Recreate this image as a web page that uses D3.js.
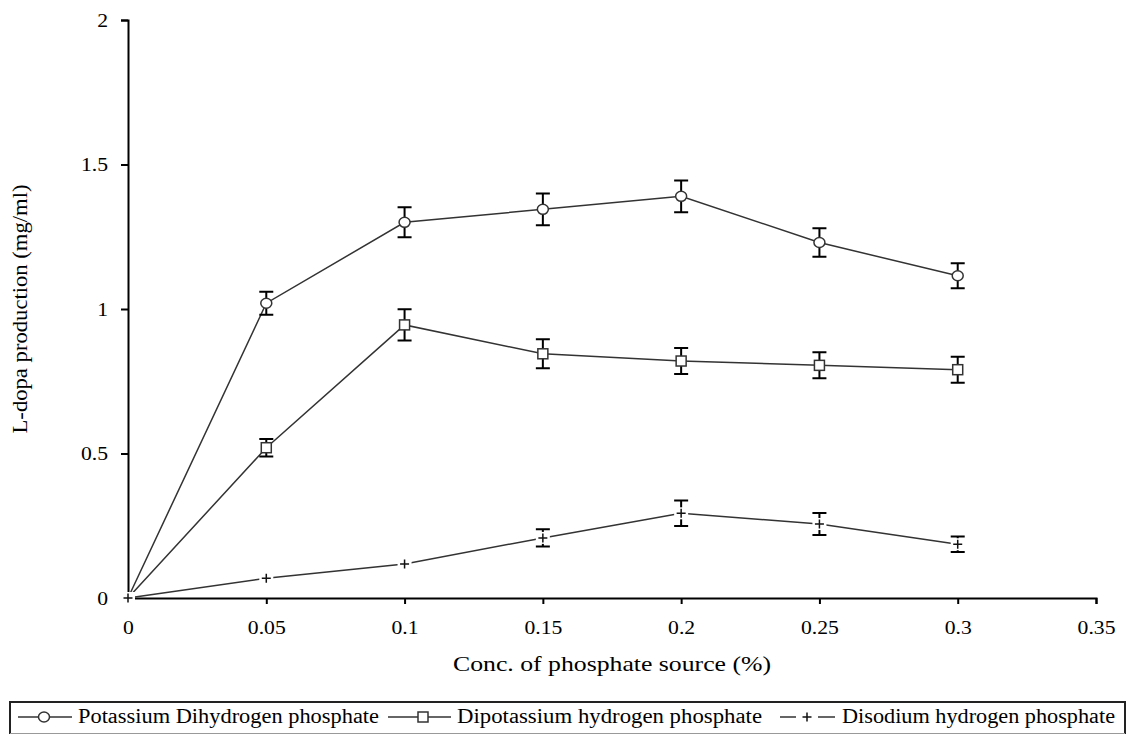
<!DOCTYPE html>
<html><head><meta charset="utf-8">
<script src="https://cdn.jsdelivr.net/npm/d3@7"></script>
<style>body{margin:0;background:#fff}svg{display:block}svg text{font-family:"Liberation Serif","Times New Roman",serif;fill:#000}</style>
</head><body><svg id="c" width="1128" height="735"></svg>
<script>
const xValues = [0, 0.05, 0.1, 0.15, 0.2, 0.25, 0.3];
const seriesNames = ["Potassium Dihydrogen phosphate", "Dipotassium hydrogen phosphate", "Disodium hydrogen phosphate"];
const kh2po4 = [0, 1.02, 1.30, 1.345, 1.39, 1.23, 1.115];
const kh2po4Err = [0, 0.04, 0.052, 0.055, 0.055, 0.049, 0.043];
const k2hpo4 = [0, 0.52, 0.945, 0.845, 0.82, 0.805, 0.79];
const k2hpo4Err = [0, 0.03, 0.054, 0.05, 0.045, 0.045, 0.045];
const na2hpo4 = [0, 0.068, 0.118, 0.208, 0.293, 0.256, 0.186];
const na2hpo4Err = [0, 0, 0, 0.03, 0.044, 0.038, 0.027];
const xTicks = [0, 0.05, 0.1, 0.15, 0.2, 0.25, 0.3, 0.35];
const yTicks = [0, 0.5, 1, 1.5, 2];
const xTitle = "Conc. of phosphate source (%)";
const yTitle = "L-dopa production (mg/ml)";

const STRETCH = 1.14;
function stretch(sel, k) {
  sel.each(function() {
    const len = this.getComputedTextLength();
    d3.select(this).attr("textLength", len * (k || STRETCH)).attr("lengthAdjust", "spacingAndGlyphs");
  });
}

const svg = d3.select("#c");
const x = d3.scaleLinear().domain([0, 0.35]).range([128, 1096]);
const y = d3.scaleLinear().domain([0, 2]).range([598, 20]);

// axes
const xa = svg.append("g").attr("transform", `translate(0,${y(0)})`)
  .call(d3.axisBottom(x).tickValues(xTicks).tickFormat(d => String(d)).tickSize(6).tickPadding(17));
const ya = svg.append("g").attr("transform", `translate(${x(0)},0)`)
  .call(d3.axisLeft(y).tickValues(yTicks).tickFormat(d => String(d)).tickSize(7).tickPadding(13));
[xa, ya].forEach(g => {
  g.attr("font-family", null).attr("font-size", null);
  g.select(".domain").attr("stroke", "#000").attr("stroke-width", 2);
  g.selectAll(".tick line").attr("stroke", "#000").attr("stroke-width", 2);
  g.selectAll(".tick text").attr("font-size", 19).attr("fill", "#000");
  stretch(g.selectAll(".tick text"));
});

const xt = svg.append("text").attr("x", (x(0)+x(0.35))/2).attr("y", 671).attr("text-anchor", "middle")
  .attr("font-size", 21).text(xTitle);
xt.attr("textLength", 318).attr("lengthAdjust", "spacingAndGlyphs");
svg.append("text").attr("transform", `translate(27,${(y(0)+y(2))/2}) rotate(-90)`).attr("text-anchor", "middle")
  .attr("font-size", 20).attr("textLength", 249).attr("lengthAdjust", "spacingAndGlyphs").text(yTitle);

const series = [
  {vals: kh2po4, err: kh2po4Err, sym: "circle"},
  {vals: k2hpo4, err: k2hpo4Err, sym: "square"},
  {vals: na2hpo4, err: na2hpo4Err, sym: "plus"}
];

const line = d3.line().x(d => x(d[0])).y(d => y(d[1]));
const lineColor = "#333";

function drawMarker(g, sym, cx, cy) {
  if (sym === "circle") {
    g.append("ellipse").attr("cx", cx).attr("cy", cy).attr("rx", 5.5).attr("ry", 5)
      .attr("fill", "#fff").attr("stroke", "#333").attr("stroke-width", 1.5);
  } else if (sym === "square") {
    g.append("rect").attr("x", cx - 5).attr("y", cy - 5).attr("width", 10).attr("height", 10)
      .attr("fill", "#fff").attr("stroke", "#333").attr("stroke-width", 1.5);
  } else {
    g.append("rect").attr("x", cx - 7).attr("y", cy - 6).attr("width", 14).attr("height", 12).attr("fill", "#fff");
    g.append("path").attr("d", `M${cx-4.5},${cy}H${cx+4.5}M${cx},${cy-4.5}V${cy+4.5}`)
      .attr("stroke", "#111").attr("stroke-width", 1.5).attr("fill", "none");
  }
}

series.forEach(s => {
  const pts = xValues.map((xv, i) => [xv, s.vals[i], s.err[i]]);
  svg.append("path").datum(pts).attr("d", line).attr("fill", "none").attr("stroke", lineColor).attr("stroke-width", 1.5);
});
series.forEach(s => {
  const g = svg.append("g");
  xValues.forEach((xv, i) => {
    const e = s.err[i];
    if (e > 0) {
      const cx = x(xv), t = y(s.vals[i] + e), b = y(s.vals[i] - e);
      g.append("path").attr("d", `M${cx},${t}V${b}M${cx-7},${t}H${cx+7}M${cx-7},${b}H${cx+7}`)
        .attr("stroke", "#000").attr("stroke-width", 2).attr("fill", "none");
    }
  });
  xValues.forEach((xv, i) => {
    if (i === 0 && s.sym !== "plus") return;
    drawMarker(g, s.sym, x(xv), y(s.vals[i]));
  });
});

// legend
const lg = svg.append("g");
lg.append("path").attr("d", "M10,734V702H1125V734").attr("fill", "none").attr("stroke", "#222").attr("stroke-width", 2);
lg.append("path").attr("d", "M10,733.5H1125").attr("stroke", "#999").attr("stroke-width", 1);
const legendItems = [
  {s0: 18, s1: 72, mx: 44, tx: 78, tl: 301, sym: "circle"},
  {s0: 388, s1: 451, mx: 423, tx: 457, tl: 305, sym: "square"},
  {s0: 780, s1: 835, mx: 807, tx: 842, tl: 273, sym: "plus"}
];
legendItems.forEach((it, i) => {
  const cy = 717;
  if (it.sym === "plus") {
    lg.append("path").attr("d", `M${it.s0},${cy}H${it.mx-11}M${it.mx+11},${cy}H${it.s1}`).attr("stroke", "#333").attr("stroke-width", 1.5);
  } else {
    lg.append("path").attr("d", `M${it.s0},${cy}H${it.s1}`).attr("stroke", "#333").attr("stroke-width", 1.5);
  }
  drawMarker(lg, it.sym, it.mx, cy);
  lg.append("text").attr("x", it.tx).attr("y", 723).attr("font-size", 20)
    .attr("textLength", it.tl).attr("lengthAdjust", "spacingAndGlyphs").text(seriesNames[i]);
});
</script></body></html>
